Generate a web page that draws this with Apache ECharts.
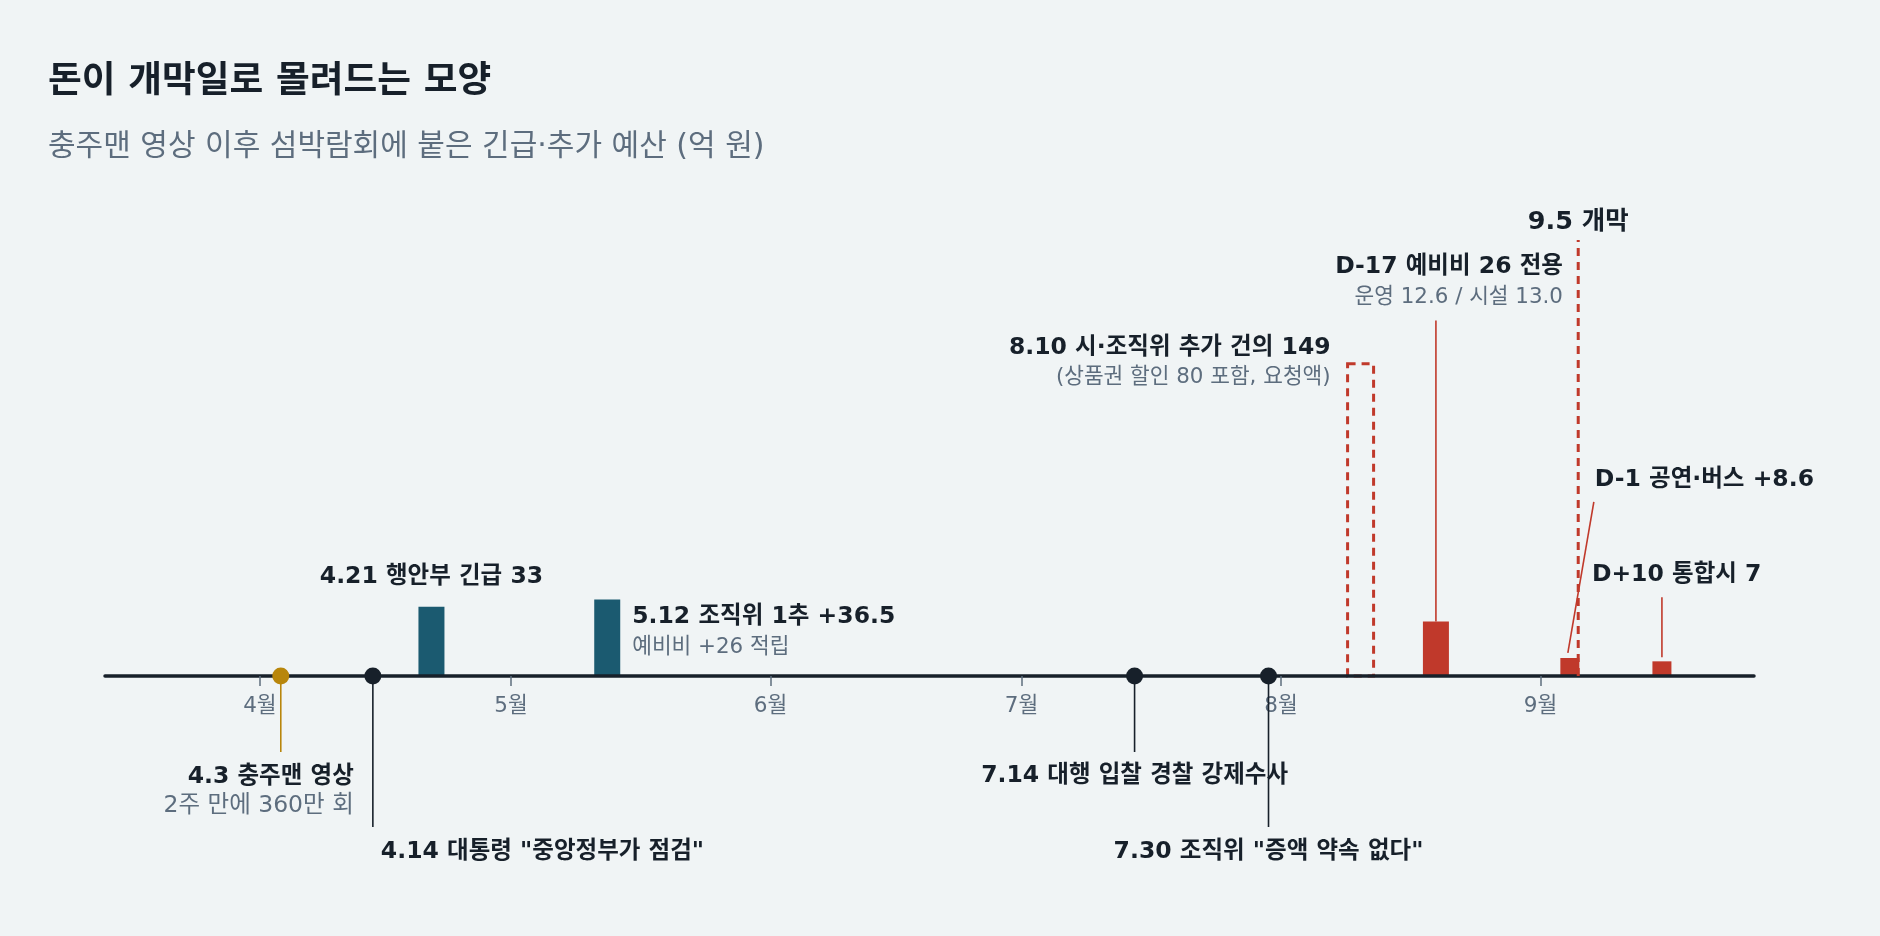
<!DOCTYPE html>
<html>
<head>
<meta charset="utf-8">
<title>돈이 개막일로 몰려드는 모양</title>
<script src="https://cdn.jsdelivr.net/npm/echarts@6.0.0/dist/echarts.min.js"></script>
<style>
    html, body { margin: 0; padding: 0; background: #f0f4f5; }
    #chart { width: 1880px; height: 936px; }
</style>
</head>
<body>
<div id="chart"></div>
<script>
// 예산 (억 원)
var budgetDates = ['2026-04-21', '2026-05-12', '2026-08-19', '2026-09-04', '2026-09-15'];
var budgetValues = [33, 36.5, 26, 8.6, 7];
var budgetTitles = ['4.21 행안부 긴급 33', '5.12 조직위 1추 +36.5', 'D-17 예비비 26 전용', 'D-1 공연·버스 +8.6', 'D+10 통합시 7'];
var budgetNotes = ['', '예비비 +26 적립', '운영 12.6 / 시설 13.0', '', ''];

// 요청액 (미확정)
var proposalDates = ['2026-08-10'];
var proposalValues = [149];
var proposalTitles = ['8.10 시·조직위 추가 건의 149'];
var proposalNotes = ['(상품권 할인 80 포함, 요청액)'];

// 사건
var eventDates = ['2026-04-03', '2026-04-14', '2026-07-14', '2026-07-30'];
var eventTitles = ['4.3 충주맨 영상', '4.14 대통령 "중앙정부가 점검"', '7.14 대행 입찰 경찰 강제수사', '7.30 조직위 "증액 약속 없다"'];
var eventNotes = ['2주 만에 360만 회', '', '', ''];

var openingDate = '2026-09-05';
var openingTitle = '9.5 개막';

var axisStart = '2026-03-13T12:00:00';
var axisEnd = '2026-09-26T12:00:00';

var FONT = "'DejaVu Sans', 'Noto Sans CJK KR', sans-serif";
var INK = '#17202a';
var GREY = '#5d6d7e';
var TEAL = '#1b5a70';
var RED = '#c0392b';
var GOLD = '#b8860b';
var DASH = [8, 6];

// 라벨 위치 (px, 막대 꼭대기 기준)
var budgetLayout = [
    { w: 26, color: TEAL, dx: 0, dy: -30, align: 'center' },
    { w: 26, color: TEAL, dx: 25, dy: 17, align: 'left' },
    { w: 26, color: RED, dx: 127, dy: -355, align: 'right', stem: [0, 0, 0, -301] },
    { w: 19, color: RED, dx: 25, dy: -178, align: 'left', stem: [-2, -5, 24, -156] },
    { w: 19, color: RED, dx: -70, dy: -86, align: 'left', stem: [0, -4, 0, -64] }
];
var proposalLayout = [{ w: 26, dx: -30, dy: -16 }];
// 사건 라벨 (px, 축 기준)
var eventLayout = [
    { color: GOLD, stem: 76, dx: 73, dy: 101, align: 'right', noteSize: 23.5 },
    { color: INK, stem: 151, dx: 8, dy: 176, align: 'left' },
    { color: INK, stem: 76, dx: 0, dy: 100, align: 'center' },
    { color: INK, stem: 151, dx: 0, dy: 176, align: 'center' }
];

function noon(d) {
    return new Date(d + 'T12:00:00').getTime();
}

function text(x, y, str, align, bold, size) {
    return {
        type: 'text',
        x: x,
        y: y,
        style: {
            text: str,
            fill: bold ? INK : GREY,
            fontSize: size,
            fontWeight: bold ? 'bold' : 'normal',
            fontFamily: FONT,
            align: align,
            verticalAlign: 'middle'
        }
    };
}

function renderBudget(params, api) {
    var i = params.dataIndex;
    var L = budgetLayout[i];
    var base = api.coord([api.value(0), 0]);
    var top = api.coord([api.value(0), api.value(1)]);
    var kids = [{
        type: 'rect',
        shape: { x: top[0] - L.w / 2, y: top[1], width: L.w, height: base[1] - top[1] },
        style: { fill: L.color }
    }];
    if (L.stem) {
        kids.push({
            type: 'line',
            shape: { x1: top[0] + L.stem[0], y1: top[1] + L.stem[1], x2: top[0] + L.stem[2], y2: top[1] + L.stem[3] },
            style: { stroke: RED, lineWidth: 1.6 }
        });
    }
    kids.push(text(top[0] + L.dx, top[1] + L.dy, budgetTitles[i], L.align, true, 23.5));
    if (budgetNotes[i]) {
        kids.push(text(top[0] + L.dx, top[1] + L.dy + 31, budgetNotes[i], L.align, false, 21.4));
    }
    return { type: 'group', children: kids };
}

function renderProposal(params, api) {
    var i = params.dataIndex;
    var L = proposalLayout[i];
    var base = api.coord([api.value(0), 0]);
    var top = api.coord([api.value(0), api.value(1)]);
    return {
        type: 'group',
        children: [
            {
                type: 'rect',
                shape: { x: top[0] - L.w / 2, y: top[1], width: L.w, height: base[1] - top[1] },
                style: { fill: 'none', stroke: RED, lineWidth: 3, lineDash: DASH }
            },
            text(top[0] + L.dx, top[1] + L.dy, proposalTitles[i], 'right', true, 23.5),
            text(top[0] + L.dx, top[1] + L.dy + 30, proposalNotes[i], 'right', false, 21.4)
        ]
    };
}

function renderOpening(params, api) {
    var p = api.coord([api.value(0), 0]);
    return {
        type: 'group',
        children: [
            {
                type: 'line',
                shape: { x1: p[0], y1: p[1], x2: p[0], y2: p[1] - 436 },
                style: { stroke: RED, lineWidth: 3, lineDash: DASH }
            },
            text(p[0], p[1] - 454, openingTitle, 'center', true, 25.5)
        ]
    };
}

function renderEvent(params, api) {
    var i = params.dataIndex;
    var L = eventLayout[i];
    var p = api.coord([api.value(0), 0]);
    var kids = [
        {
            type: 'line',
            shape: { x1: p[0], y1: p[1], x2: p[0], y2: p[1] + L.stem },
            style: { stroke: L.color, lineWidth: 1.6 }
        },
        {
            type: 'circle',
            shape: { cx: p[0], cy: p[1], r: 8.5 },
            style: { fill: L.color }
        },
        text(p[0] + L.dx, p[1] + L.dy, eventTitles[i], L.align, true, 23.5)
    ];
    if (eventNotes[i]) {
        kids.push(text(p[0] + L.dx, p[1] + L.dy + 29, eventNotes[i], L.align, false, L.noteSize || 21.4));
    }
    return { type: 'group', children: kids };
}

var myChart = echarts.init(document.getElementById('chart'));

var option = {
    backgroundColor: '#f0f4f5',
    animation: false,
    textStyle: { fontFamily: FONT },
    title: {
        left: 43,
        top: 57,
        text: '돈이 개막일로 몰려드는 모양',
        textStyle: { fontSize: 36.7, fontWeight: 'bold', color: INK, lineHeight: 40, fontFamily: FONT },
        subtext: '충주맨 영상 이후 섬박람회에 붙은 긴급·추가 예산 (억 원)',
        subtextStyle: { fontSize: 30, color: GREY, lineHeight: 36, fontFamily: FONT },
        itemGap: 27
    },
    grid: { left: 105, right: 126, top: 257, bottom: 260 },
    xAxis: {
        type: 'time',
        min: new Date(axisStart).getTime(),
        max: new Date(axisEnd).getTime(),
        splitNumber: 7,
        minInterval: 28 * 86400000,
        z: 3,
        axisLine: { lineStyle: { color: INK, width: 3.5 } },
        axisTick: { show: true, length: 10, lineStyle: { color: GREY, width: 1.5 } },
        axisLabel: {
            margin: 20,
            fontSize: 21.5,
            color: GREY,
            fontFamily: FONT,
            formatter: function (value) {
                var d = new Date(value);
                return d.getDate() === 1 ? (d.getMonth() + 1) + '월' : '';
            }
        },
        splitLine: { show: false }
    },
    yAxis: {
        type: 'value',
        min: 0,
        max: 200,
        show: false
    },
    series: [
        {
            name: '예산',
            type: 'custom',
            z: 2,
            renderItem: renderBudget,
            encode: { x: 0, y: 1 },
            data: budgetDates.map(function (d, i) { return [noon(d), budgetValues[i]]; })
        },
        {
            name: '요청액',
            type: 'custom',
            z: 2,
            renderItem: renderProposal,
            encode: { x: 0, y: 1 },
            data: proposalDates.map(function (d, i) { return [noon(d), proposalValues[i]]; })
        },
        {
            name: '개막',
            type: 'custom',
            z: 4,
            renderItem: renderOpening,
            encode: { x: 0, y: 1 },
            data: [[noon(openingDate), 0]]
        },
        {
            name: '사건',
            type: 'custom',
            z: 5,
            renderItem: renderEvent,
            encode: { x: 0, y: 1 },
            data: eventDates.map(function (d) { return [noon(d), 0]; })
        }
    ]
};

myChart.setOption(option);
</script>
</body>
</html>
